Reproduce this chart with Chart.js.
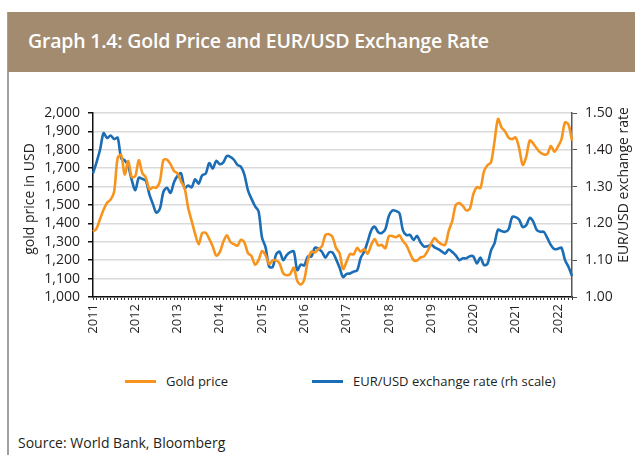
<!DOCTYPE html>
<html>
<head>
<meta charset="utf-8">
<script src="https://cdn.jsdelivr.net/npm/chart.js@4.4.1/dist/chart.umd.min.js"></script>
<style>
  body { margin: 0; width: 635px; height: 455px; position: relative; background: #fff; overflow: hidden; font-family: 'Open Sans', sans-serif; color: #231f20; }
  #frame { position: absolute; left: 7px; top: 12px; width: 2px; height: 443px; background: #a0a0a0; }
  #titlebar { position: absolute; left: 8px; top: 12px; width: 627px; height: 60px; background: #a38b70; }
  #titlebar span { position: absolute; left: 20px; top: 15px; color: #fff; font: 600 19.5px 'Open Sans', sans-serif; letter-spacing: -0.2px; }
  #chart { position: absolute; left: 0; top: 95px; }
  #legend { position: absolute; left: 125px; top: 372px; display: flex; gap: 84px; font-size: 13px; }
  .item { display: flex; align-items: center; }
  .swatch { width: 31px; height: 3px; margin-right: 10px; }
  #source { position: absolute; left: 18px; top: 433px; font-size: 14px; }
</style>
</head>
<body>
<div id="frame"></div>
<div id="titlebar"><span>Graph 1.4: Gold Price and EUR/USD Exchange Rate</span></div>
<canvas id="chart" width="635" height="255"></canvas>
<div id="legend"></div>
<div id="source">Source: World Bank, Bloomberg</div>
<script>
    // Monthly averages, Jan 2011 - May 2022
    const yearLabels = ['2011', '2012', '2013', '2014', '2015', '2016', '2017', '2018', '2019', '2020', '2021', '2022'];

    const goldPrice = [
        1356, 1372, 1424, 1474, 1512, 1529, 1572, 1756, 1772, 1666, 1739, 1652,
        1656, 1743, 1674, 1650, 1585, 1596, 1594, 1630, 1745, 1747, 1722, 1685,
        1671, 1627, 1593, 1487, 1414, 1343, 1286, 1347, 1349, 1316, 1275, 1225,
        1244, 1300, 1336, 1299, 1287, 1279, 1311, 1296, 1239, 1223, 1176, 1200,
        1250, 1227, 1179, 1198, 1199, 1181, 1129, 1118, 1125, 1159, 1087, 1068,
        1097, 1199, 1246, 1242, 1261, 1276, 1337, 1341, 1326, 1267, 1238, 1152,
        1192, 1234, 1231, 1267, 1246, 1260, 1236, 1283, 1315, 1280, 1283, 1265,
        1331, 1331, 1325, 1335, 1304, 1281, 1238, 1201, 1198, 1215, 1221, 1250,
        1291, 1320, 1300, 1286, 1284, 1359, 1413, 1500, 1510, 1495, 1471, 1480,
        1560, 1597, 1592, 1683, 1716, 1732, 1846, 1968, 1921, 1900, 1866, 1858,
        1867, 1808, 1718, 1761, 1850, 1834, 1807, 1785, 1775, 1777, 1821, 1790,
        1817, 1856, 1948, 1937, 1850
    ];

    const eurUsd = [
        1.336, 1.366, 1.400, 1.445, 1.432, 1.439, 1.429, 1.433, 1.377, 1.371, 1.356, 1.318,
        1.290, 1.324, 1.321, 1.316, 1.279, 1.253, 1.229, 1.240, 1.286, 1.297, 1.283, 1.312,
        1.329, 1.336, 1.296, 1.303, 1.298, 1.320, 1.308, 1.331, 1.335, 1.364, 1.349, 1.370,
        1.361, 1.366, 1.383, 1.381, 1.373, 1.359, 1.354, 1.332, 1.290, 1.267, 1.247, 1.233,
        1.161, 1.135, 1.083, 1.081, 1.116, 1.123, 1.100, 1.114, 1.122, 1.124, 1.073, 1.088,
        1.086, 1.110, 1.110, 1.134, 1.131, 1.123, 1.107, 1.121, 1.121, 1.103, 1.080, 1.054,
        1.063, 1.064, 1.069, 1.072, 1.106, 1.123, 1.151, 1.181, 1.191, 1.176, 1.174, 1.184,
        1.220, 1.235, 1.234, 1.228, 1.181, 1.168, 1.169, 1.155, 1.166, 1.148, 1.137, 1.138,
        1.142, 1.135, 1.130, 1.124, 1.118, 1.129, 1.122, 1.113, 1.100, 1.105, 1.105, 1.111,
        1.110, 1.091, 1.107, 1.087, 1.090, 1.126, 1.146, 1.183, 1.179, 1.177, 1.184, 1.217,
        1.217, 1.210, 1.190, 1.195, 1.215, 1.205, 1.182, 1.177, 1.177, 1.160, 1.141, 1.130,
        1.131, 1.134, 1.101, 1.082, 1.057
    ];

    const seriesNames = ['Gold price', 'EUR/USD exchange rate (rh scale)'];
    const axisTitles = ['gold price in USD', 'EUR/USD exchange rate'];

    // one label per month, year shown only in January
    const monthLabels = [];
    yearLabels.forEach(y => {
        for (let m = 1; m <= 12; m++) monthLabels.push(y + '-' + String(m).padStart(2, '0'));
    });
    const labels = monthLabels.slice(0, goldPrice.length);

    const FONT = "'Open Sans', sans-serif";
    const INK = '#231f20';

    const axisTitlePlugin = {
        id: 'axisTitlePlugin',
        afterDraw(chart) {
            const ctx = chart.ctx;
            const area = chart.chartArea;
            const mid = (area.top + area.bottom) / 2;
            ctx.save();
            ctx.font = '14px ' + FONT;
            ctx.fillStyle = INK;
            ctx.textAlign = 'center';
            ctx.textBaseline = 'middle';
            ctx.translate(30, mid - 6);
            ctx.rotate(-Math.PI / 2);
            ctx.fillText(axisTitles[0], 0, 0);
            ctx.restore();

            ctx.save();
            ctx.font = '14px ' + FONT;
            ctx.fillStyle = INK;
            ctx.textAlign = 'center';
            ctx.textBaseline = 'middle';
            ctx.translate(624, mid - 20);
            ctx.rotate(-Math.PI / 2);
            ctx.fillText(axisTitles[1], 0, 0);
            ctx.restore();
        }
    };

    const ctx = document.getElementById('chart').getContext('2d');
    const chart = new Chart(ctx, {
        type: 'line',
        data: {
            labels: labels,
            datasets: [
                {
                    label: seriesNames[0],
                    data: goldPrice,
                    yAxisID: 'y',
                    borderColor: '#f7941d',
                    borderWidth: 2.6,
                    pointRadius: 0,
                    tension: 0.3
                },
                {
                    label: seriesNames[1],
                    data: eurUsd,
                    yAxisID: 'y1',
                    borderColor: '#1b6db5',
                    borderWidth: 2.6,
                    pointRadius: 0,
                    tension: 0.3
                }
            ]
        },
        options: {
            responsive: false,
            animation: false,
            layout: { padding: { top: 18, left: 0, right: 0, bottom: 0 } },
            plugins: {
                legend: { display: false },
                tooltip: { enabled: false }
            },
            scales: {
                x: {
                    type: 'category',
                    offset: false,
                    afterFit: s => { s.height = 53; },
                    border: { display: true, color: '#111', width: 1.5 },
                    grid: { drawOnChartArea: false, drawTicks: true, tickLength: 3, tickColor: '#333', lineWidth: 1 },
                    ticks: {
                        autoSkip: false,
                        maxRotation: 90,
                        minRotation: 90,
                        padding: 4,
                        color: INK,
                        font: { family: FONT, size: 13 },
                        callback: (v, i) => (i % 12 === 0 ? yearLabels[i / 12] : '')
                    }
                },
                y: {
                    position: 'left',
                    min: 1000,
                    max: 2000,
                    afterFit: s => { s.width = 93; },
                    border: { display: true, color: '#111', width: 1.5 },
                    grid: { color: '#dadada', lineWidth: 1.5, tickLength: 5, tickColor: '#111' },
                    ticks: {
                        stepSize: 100,
                        autoSkip: false,
                        padding: 8,
                        color: INK,
                        font: { family: FONT, size: 14 },
                        callback: v => v.toLocaleString('en-US')
                    }
                },
                y1: {
                    position: 'right',
                    min: 1.0,
                    max: 1.5,
                    afterFit: s => { s.width = 63; },
                    border: { display: true, color: '#555', width: 1.5 },
                    grid: { drawOnChartArea: false, tickLength: 5, tickColor: '#555' },
                    ticks: {
                        stepSize: 0.1,
                        autoSkip: false,
                        padding: 8,
                        color: INK,
                        font: { family: FONT, size: 14 },
                        callback: v => v.toFixed(2)
                    }
                }
            }
        },
        plugins: [axisTitlePlugin]
    });

    // legend built from the chart's datasets
    const legend = document.getElementById('legend');
    chart.data.datasets.forEach(ds => {
        const item = document.createElement('div');
        item.className = 'item';
        item.innerHTML = '<span class="swatch" style="background:' + ds.borderColor + '"></span><span>' + ds.label + '</span>';
        legend.appendChild(item);
    });
</script>
</body>
</html>
